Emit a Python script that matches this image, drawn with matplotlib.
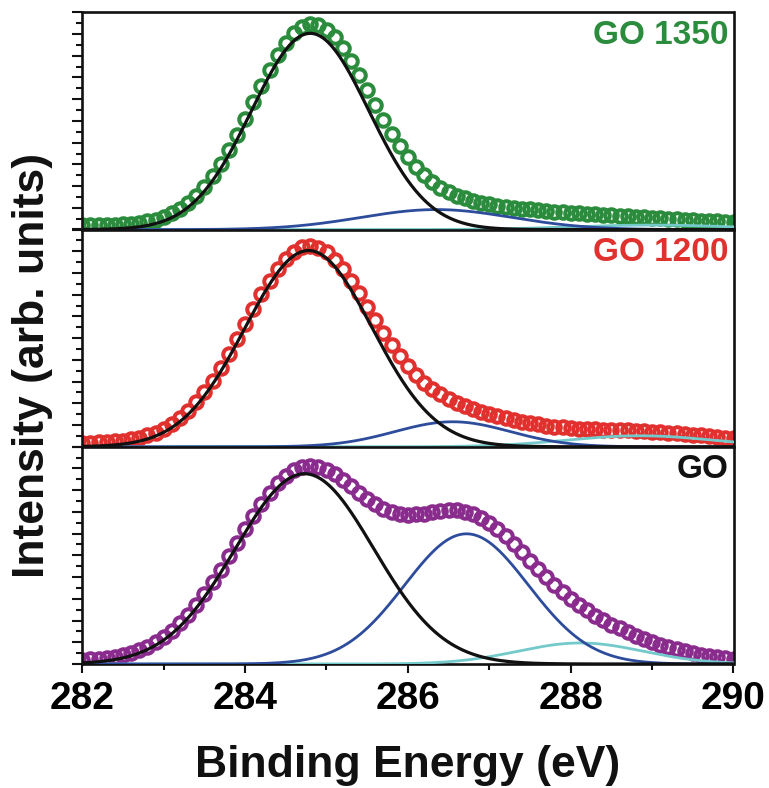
import numpy as np
import matplotlib
matplotlib.use("Agg")
import matplotlib.pyplot as plt
from matplotlib.ticker import MultipleLocator, FixedLocator

# ---------------- data (peak-fit parameters) ----------------
energy_min, energy_max, energy_step = 282.0, 290.0, 0.1
panel_labels = ["GO 1350", "GO 1200", "GO"]
panel_colors = ["#2A8C3C", "#E0312E", "#8A2B8E"]
label_colors = ["#2A8C3C", "#E0312E", "#111111"]

# C=C (black) component: centre (eV), height, sigma (eV)
cc_center = [284.80, 284.78, 284.73]
cc_height = [196.0, 196.0, 190.0]
cc_sigma = [0.72, 0.78, 0.85]
# C-O (blue) component
co_center = [286.35, 286.55, 286.72]
co_height = [20.0, 25.0, 130.0]
co_sigma = [0.93, 0.71, 0.76]
# C=O / O-C=O (cyan) component
coo_center = [289.00, 288.85, 288.12]
coo_height = [4.5, 11.0, 21.0]
coo_sigma = [1.00, 0.90, 0.77]
# measured spectrum: flat baseline + high-energy tail on top of the components
base_level = [4.0, 3.5, 3.0]
tail_center = [288.0, 287.6, 288.2]
tail_height = [6.0, 6.0, 10.0]
tail_sigma = [0.90, 0.70, 0.90]

panel_height = 217.0

# ---------------- figure ----------------
W, H = 769, 788
fig = plt.figure(figsize=(W / 100, H / 100), dpi=100)
plt.rcParams["font.family"] = ["Liberation Sans", "DejaVu Sans"]

left_px, right_px = 82.3, 733.5
tops_px = [12.3, 229.5, 446.7]
ph_px = 217.3

def gauss(x, c, h, s):
    return h * np.exp(-(x - c) ** 2 / (2 * s ** 2))

x_fine = np.linspace(energy_min, energy_max, 801)
x_pts = np.arange(energy_min, energy_max + 1e-6, energy_step)

axes = []
for i in range(3):
    top = tops_px[i]
    ax = fig.add_axes([left_px / W, 1 - (top + ph_px) / H,
                       (right_px - left_px) / W, ph_px / H])
    axes.append(ax)

    def comps(x):
        a = gauss(x, cc_center[i], cc_height[i], cc_sigma[i])
        b = gauss(x, co_center[i], co_height[i], co_sigma[i])
        c = gauss(x, coo_center[i], coo_height[i], coo_sigma[i])
        return a, b, c

    a, b, c = comps(x_pts)
    meas = a + b + c + base_level[i] + gauss(x_pts, tail_center[i], tail_height[i], tail_sigma[i])
    ax.plot(x_pts, meas, ls="none", marker="o", ms=9.0, mew=2.9,
            mfc="none", mec=panel_colors[i], zorder=2)

    a, b, c = comps(x_fine)
    ax.plot(x_fine, c, color="#74CACB", lw=2.0, zorder=3)
    ax.plot(x_fine, b, color="#2E4C9C", lw=2.0, zorder=3)
    ax.plot(x_fine, a, color="#111111", lw=2.3, zorder=4)

    ax.set_xlim(energy_min, energy_max)
    ax.set_ylim(0, panel_height)
    for sp in ax.spines.values():
        sp.set_linewidth(1.9)
        sp.set_color("#111111")

    ax.yaxis.set_major_locator(FixedLocator(np.linspace(0, panel_height, 11)))
    ax.yaxis.set_minor_locator(FixedLocator(np.linspace(0, panel_height, 21)))
    ax.tick_params(axis="y", which="major", direction="out", length=7.2,
                   width=1.5, labelleft=False, color="#111111")
    ax.tick_params(axis="y", which="minor", direction="out", length=4.2,
                   width=1.5, color="#111111")

    ax.text(0.993, 1 - 23 / ph_px, panel_labels[i], transform=ax.transAxes,
            ha="right", va="center", fontsize=24, fontweight="bold",
            color=label_colors[i], family=["Liberation Sans", "DejaVu Sans"])

    if i < 2:
        ax.tick_params(axis="x", which="both", bottom=False, labelbottom=False)
    else:
        ax.xaxis.set_major_locator(MultipleLocator(2))
        ax.xaxis.set_minor_locator(MultipleLocator(1))
        ax.tick_params(axis="x", which="major", direction="out", length=6.5,
                       width=1.5, pad=6, color="#111111")
        ax.tick_params(axis="x", which="minor", direction="out", length=4.0,
                       width=1.5, color="#111111")
        for lab in ax.get_xticklabels():
            lab.set_fontweight("bold")
            lab.set_fontsize(28)

fig.text((left_px + right_px) / 2 / W, 1 - 765 / H, "Binding Energy (eV)",
         ha="center", va="center", fontsize=32, fontweight="bold", color="#111111")
fig.text(33 / W, 1 - 365 / H, "Intensity (arb. units)", rotation=90,
         ha="center", va="center", fontsize=32, fontweight="bold", color="#111111")

fig.savefig("out.png", dpi=100)
